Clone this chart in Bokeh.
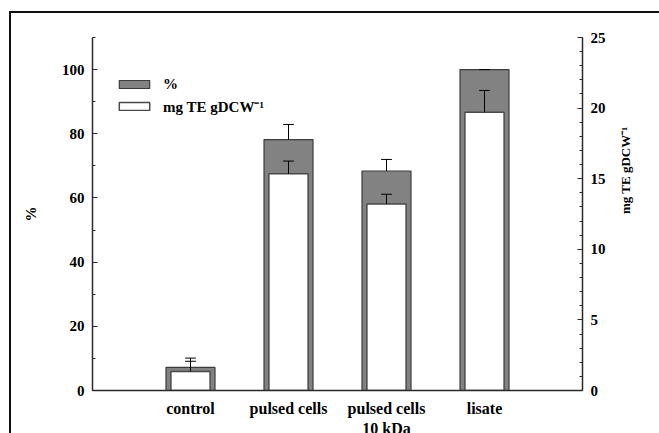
import math
from bokeh.plotting import figure
from bokeh.models import (Range1d, LinearAxis, FixedTicker, SingleIntervalTicker,
                          Legend, LegendItem, ColumnDataSource)
from bokeh.embed import file_html
from bokeh.resources import INLINE

# ---- data ----
categories = ["control", "pulsed cells", "pulsed cells\n10 kDa", "lisate"]
x_pos = [1, 2, 3, 4]
pct = [7.2, 78.2, 68.4, 100.0]
pct_err = [2.9, 4.7, 3.6, 0.0]
mg = [1.35, 15.35, 13.2, 19.7]
mg_err = [0.72, 0.9, 0.7, 1.55]
left_ticks = [0, 20, 40, 60, 80, 100]
right_ticks = [0, 5, 10, 15, 20, 25]

FONT = "'Liberation Serif'"
AXC = "#2a2a2a"

p = figure(frame_width=490, frame_height=353,
           min_border_left=92, min_border_right=75, min_border_top=37, min_border_bottom=30,
           x_range=Range1d(0, 5), y_range=Range1d(0, 110),
           output_backend="svg", toolbar_location=None)
p.extra_y_ranges = {"mg": Range1d(0, 25)}
p.xgrid.visible = False
p.ygrid.visible = False
p.outline_line_color = None
p.background_fill_color = "white"
p.border_fill_color = "white"

src = ColumnDataSource(dict(
    x=x_pos, pct=pct, pct_top=[v + e for v, e in zip(pct, pct_err)],
    mg=mg, mg_top=[v + e for v, e in zip(mg, mg_err)],
    xl=[x - 0.055 for x in x_pos], xr=[x + 0.055 for x in x_pos],
))

gray = p.vbar(x="x", top="pct", width=0.5, bottom=0, source=src,
              fill_color="#828282", line_color="#3c3c3c", line_width=1.2)
p.segment(x0="x", y0="pct", x1="x", y1="pct_top", source=src, line_color="black", line_width=1)
p.segment(x0="xl", y0="pct_top", x1="xr", y1="pct_top", source=src, line_color="black", line_width=1)

white = p.vbar(x="x", top="mg", width=0.4, bottom=0, source=src, y_range_name="mg",
               fill_color="white", line_color="#4a4a4a", line_width=1.5)
p.segment(x0="x", y0="mg", x1="x", y1="mg_top", source=src, y_range_name="mg",
          line_color="black", line_width=1)
p.segment(x0="xl", y0="mg_top", x1="xr", y1="mg_top", source=src, y_range_name="mg",
          line_color="black", line_width=1)

def style_axis(ax):
    ax.axis_line_color = AXC
    ax.axis_line_width = 1.5
    ax.major_tick_line_color = AXC
    ax.minor_tick_line_color = AXC
    ax.major_tick_line_width = 1.2
    ax.minor_tick_line_width = 1.2
    ax.major_tick_in = 5
    ax.major_tick_out = 0
    ax.minor_tick_in = 3
    ax.minor_tick_out = 0
    ax.major_label_text_font = FONT
    ax.major_label_text_font_style = "bold"
    ax.major_label_text_font_size = "15px"
    ax.major_label_text_color = "black"
    ax.axis_label_text_font = FONT
    ax.axis_label_text_font_style = "bold"
    ax.axis_label_text_color = "black"

ya = p.yaxis[0]
style_axis(ya)
ya.ticker = SingleIntervalTicker(interval=20, num_minor_ticks=2)
ya.major_label_standoff = 8
ya.axis_label = "%"
ya.axis_label_text_font_size = "15px"
ya.axis_label_standoff = 20

ra = LinearAxis(y_range_name="mg", ticker=SingleIntervalTicker(interval=5, num_minor_ticks=5))
style_axis(ra)
ra.major_label_standoff = 8
ra.axis_label = "mg TE gDCW\u207b\u00b9"
ra.axis_label_text_font_size = "13px"
ra.axis_label_standoff = 17
ra.axis_label_orientation = math.pi / 2
p.add_layout(ra, "right")

xa = p.xaxis[0]
style_axis(xa)
xa.ticker = FixedTicker(ticks=x_pos)
xa.major_label_overrides = {x: c for x, c in zip(x_pos, categories)}
xa.major_tick_line_color = None
xa.minor_tick_line_color = None
xa.major_label_text_font_size = "16px"
xa.major_label_standoff = 9

legend = Legend(items=[LegendItem(label="%", renderers=[gray]),
                       LegendItem(label="mg TE gDCW\u207b\u00b9", renderers=[white])],
                location=(23, 274), orientation="vertical",
                glyph_width=38, glyph_height=10, label_height=20, spacing=2,
                padding=0, margin=0, label_standoff=10,
                border_line_color=None, background_fill_alpha=0,
                label_text_font=FONT, label_text_font_style="bold",
                label_text_font_size="15px", label_text_color="black")
p.add_layout(legend)

html = file_html(p, INLINE)

# page-level outer frame (top and left edges), drawn above the chart canvas
frame_div = ('<div style="position:fixed;top:11px;left:9px;width:700px;height:500px;'
             'border-top:2px solid #111;border-left:2px solid #111;'
             'pointer-events:none;z-index:99999;"></div>')
style_tag = '<style>html,body{margin:0;padding:0;background:#fff;}</style>'
if "</head>" in html:
    html = html.replace("</head>", style_tag + "</head>", 1)
if "</body>" in html:
    html = html.replace("</body>", frame_div + "</body>", 1)

open("out.html", "w").write(html)
